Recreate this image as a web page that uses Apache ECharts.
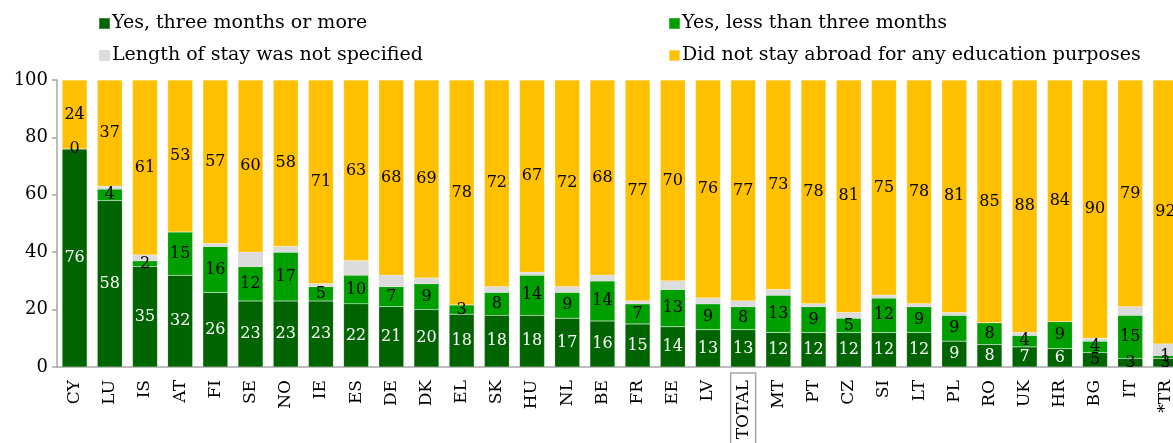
<!DOCTYPE html>
<html>
<head>
<meta charset="utf-8">
<script src="https://cdn.jsdelivr.net/npm/echarts@6/dist/echarts.min.js"></script>
<style>
  html, body { margin: 0; padding: 0; background: #fff; }
  #myChart { width: 1173px; height: 443px; }
</style>
</head>
<body>
<div id="myChart"></div>
<script>
// data
let countries = ['CY', 'LU', 'IS', 'AT', 'FI', 'SE', 'NO', 'IE', 'ES', 'DE', 'DK', 'EL', 'SK', 'HU', 'NL', 'BE',
    'FR', 'EE', 'LV', 'TOTAL', 'MT', 'PT', 'CZ', 'SI', 'LT', 'PL', 'RO', 'UK', 'HR', 'BG', 'IT', '*TR']
let threeOrMore = [76, 58, 35, 32, 26, 23, 23, 23, 22, 21, 20, 18.4, 18, 18, 17, 16,
    15, 14, 13, 13, 12, 12, 12, 12, 12, 9, 7.8, 7, 6.4, 5, 3, 3]
let lessThanThree = [0, 4, 2, 15, 16, 12, 17, 5, 10, 7, 9, 3.2, 8, 14, 9, 14,
    7, 13, 9, 8, 13, 9, 5, 12, 9, 9, 7.6, 4, 9.4, 4, 15, 1]
let notSpecified = [0, 1, 2, 0, 1, 5, 2, 1, 5, 4, 2, 0, 2, 1, 2, 2,
    1, 3, 2, 2, 2, 1, 2, 1, 1, 1, 0, 1, 0, 1, 3, 4]
let didNotStay = [24, 37, 61, 53, 57, 60, 58, 71, 63, 68, 69, 78.4, 72, 67, 72, 68,
    77, 70, 76, 77, 73, 78, 81, 75, 78, 81, 84.6, 88, 84.2, 90, 79, 92]
let yTicks = [0, 20, 40, 60, 80, 100]

let seriesNames = [
    'Yes, three months or more',
    'Yes, less than three months',
    'Length of stay was not specified',
    'Did not stay abroad for any education purposes'
]

let font = 'DejaVu Serif'
let myChart = echarts.init(document.getElementById('myChart'))

let roundLabel = p => Math.round(p.value)

// small dark segments get black text, as in the picture
let darkData = threeOrMore.map(v => ({
    value: v,
    label: { color: v < 6 ? '#000' : '#fff' }
}))

let legendBase = {
    top: 9, orient: 'vertical', itemGap: 13,
    itemWidth: 11, itemHeight: 11, icon: 'rect',
    textStyle: { fontFamily: font, fontSize: 19, color: '#000', padding: [0, 0, 0, -3] }
}

let option = {
    animation: false,
    textStyle: { fontFamily: font },
    legend: [
        Object.assign({ left: 93, data: [seriesNames[0], seriesNames[2]] }, legendBase),
        Object.assign({ left: 663, data: [seriesNames[1], seriesNames[3]] }, legendBase)
    ],
    grid: { left: 57, right: -10, top: 80, bottom: 76, outerBoundsMode: 'none', containLabel: false },
    xAxis: {
        type: 'category',
        data: countries,
        axisLine: { lineStyle: { color: '#a6a6a6', width: 1.5 } },
        axisTick: { length: 5, lineStyle: { color: '#a6a6a6', width: 1.5 } },
        axisLabel: {
            rotate: 90,
            margin: 6,
            interval: 0,
            color: '#000',
            fontFamily: font,
            fontSize: 17,
            formatter: v => v === 'TOTAL' ? '{box|' + v + '}' : '{n|' + v + '}',
            rich: {
                n: { fontFamily: font, fontSize: 17, color: '#000', padding: [4, 7, 4, 7] },
                box: {
                    fontFamily: font, fontSize: 17, color: '#000', padding: [4, 7, 4, 12],
                    borderColor: '#a6a6a6', borderWidth: 1.5
                }
            }
        }
    },
    yAxis: {
        type: 'value',
        min: 0,
        max: 100,
        interval: 20,
        splitLine: { show: false },
        axisLine: { show: true, lineStyle: { color: '#a6a6a6', width: 1.5 } },
        axisTick: { show: true, length: 5, lineStyle: { color: '#a6a6a6', width: 1.5 } },
        axisLabel: {
            margin: 9,
            color: '#000',
            fontFamily: font,
            fontSize: 18,
            formatter: v => yTicks.includes(v) ? String(v) : ''
        }
    },
    series: [
        {
            name: seriesNames[0],
            type: 'bar',
            stack: 'total',
            barWidth: 25,
            data: darkData,
            itemStyle: { color: '#006400', borderColor: 'rgba(255,255,255,0.25)', borderWidth: 0.5 },
            label: { show: true, position: 'inside', fontFamily: font, fontSize: 16, formatter: roundLabel }
        },
        {
            name: seriesNames[1],
            type: 'bar',
            stack: 'total',
            data: lessThanThree,
            itemStyle: { color: '#009f00', borderColor: 'rgba(255,255,255,0.25)', borderWidth: 0.5 },
            label: { show: true, position: 'inside', color: '#000', fontFamily: font, fontSize: 16, formatter: roundLabel }
        },
        {
            name: seriesNames[2],
            type: 'bar',
            stack: 'total',
            data: notSpecified,
            itemStyle: { color: '#dcdcdc' },
            label: { show: false }
        },
        {
            name: seriesNames[3],
            type: 'bar',
            stack: 'total',
            data: didNotStay,
            itemStyle: { color: '#ffc000', borderColor: 'rgba(255,255,255,0.4)', borderWidth: 0.5 },
            label: { show: true, position: 'inside', color: '#000', fontFamily: font, fontSize: 16, formatter: roundLabel }
        }
    ]
}
myChart.setOption(option)

window.addEventListener('resize', () => {
    myChart.resize()
})
</script>
</body>
</html>
